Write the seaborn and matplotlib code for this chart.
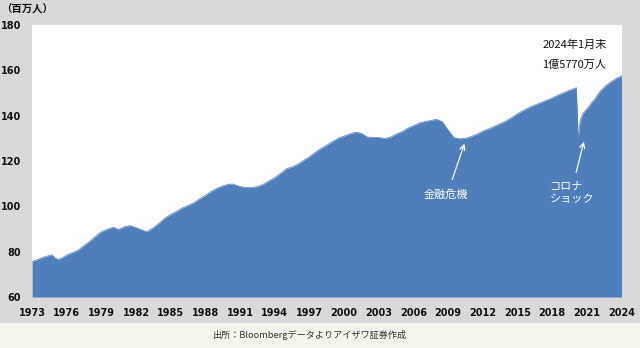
import matplotlib
matplotlib.use("Agg")
import matplotlib.pyplot as plt
import matplotlib.patches as mpatches
import seaborn as sns
import pandas as pd

# US nonfarm payrolls (millions), sampled dates as (year, month)
dates = [
    (1973, 1), (1973, 7), (1974, 1), (1974, 7), (1974, 10), (1975, 1), (1975, 4), (1975, 7),
    (1976, 1), (1976, 7), (1977, 1), (1977, 7), (1978, 1), (1978, 7), (1979, 1), (1979, 7),
    (1980, 1), (1980, 7), (1981, 1), (1981, 7), (1982, 1), (1982, 7), (1982, 12), (1983, 7),
    (1984, 1), (1984, 7), (1985, 1), (1985, 7), (1986, 1), (1986, 7), (1987, 1), (1987, 7),
    (1988, 1), (1988, 7), (1989, 1), (1989, 7), (1990, 1), (1990, 6), (1991, 1), (1991, 7),
    (1992, 1), (1992, 7), (1993, 1), (1993, 7), (1994, 1), (1994, 7), (1995, 1), (1995, 7),
    (1996, 1), (1996, 7), (1997, 1), (1997, 7), (1998, 1), (1998, 7), (1999, 1), (1999, 7),
    (2000, 1), (2000, 7), (2001, 1), (2001, 7), (2002, 1), (2002, 7), (2003, 1), (2003, 7),
    (2004, 1), (2004, 7), (2005, 1), (2005, 7), (2006, 1), (2006, 7), (2007, 1), (2007, 7),
    (2008, 1), (2008, 7), (2009, 1), (2009, 7), (2010, 1), (2010, 7), (2011, 1), (2011, 7),
    (2012, 1), (2012, 7), (2013, 1), (2013, 7), (2014, 1), (2014, 7), (2015, 1), (2015, 7),
    (2016, 1), (2016, 7), (2017, 1), (2017, 7), (2018, 1), (2018, 7), (2019, 1), (2019, 7),
    (2020, 1), (2020, 2), (2020, 4), (2020, 5), (2020, 6), (2020, 7), (2020, 9), (2020, 12),
    (2021, 3), (2021, 6), (2021, 9), (2021, 12), (2022, 3), (2022, 6), (2022, 9), (2022, 12),
    (2023, 3), (2023, 6), (2023, 9), (2023, 12), (2024, 1),
]
payrolls = [
    75.6, 76.6, 77.6, 78.3, 78.6, 77.2, 76.6, 77.0,
    78.5, 79.6, 80.7, 82.7, 84.6, 86.8, 88.8, 89.9,
    90.8, 89.8, 91.0, 91.5, 90.6, 89.6, 88.8, 90.6,
    92.6, 94.9, 96.4, 97.8, 99.3, 100.4, 101.6, 103.3,
    104.9, 106.6, 108.0, 109.0, 109.8, 109.8, 108.7, 108.3,
    108.3, 108.7, 109.7, 111.2, 112.7, 114.6, 116.6, 117.4,
    118.6, 120.3, 121.9, 123.8, 125.6, 127.0, 128.6, 130.1,
    131.0, 132.0, 132.7, 132.2, 130.6, 130.4, 130.4, 129.9,
    130.5, 131.9, 132.9, 134.5, 135.6, 136.8, 137.4, 137.9,
    138.4, 137.3, 133.6, 130.3, 129.8, 130.0, 130.8, 131.9,
    133.2, 134.2, 135.3, 136.5, 137.6, 139.2, 140.9, 142.3,
    143.6, 144.7, 145.7, 146.8, 147.8, 149.1, 150.2, 151.2,
    152.1, 152.4, 130.4, 133.0, 137.6, 139.0, 141.0, 142.5,
    144.0, 145.8, 147.2, 149.2, 150.9, 152.1, 153.4, 154.3,
    155.2, 156.0, 156.8, 157.3, 157.7,
]
x_ticks = list(range(1973, 2025, 3))
y_ticks = [60, 80, 100, 120, 140, 160, 180]

df = pd.DataFrame({
    "year": [y + (m - 1) / 12 for y, m in dates],
    "payrolls": payrolls,
})

sns.set_theme(style="white")
plt.rcParams["font.family"] = ["Noto Sans CJK JP", "DejaVu Sans"]

fill_color = "#4f7fbb"
fig = plt.figure(figsize=(6.4, 3.48), dpi=100, facecolor="#d9d9d9")
# footer band
fig.patches.append(mpatches.Rectangle((0, 0), 1, 25 / 348, transform=fig.transFigure,
                                      facecolor="#f4f3ec", edgecolor="none", zorder=0))
ax = fig.add_axes([32 / 640, 51 / 348, 589.5 / 640, 272 / 348])
ax.set_facecolor("white")

ymin, ymax = 60, 180
sns.lineplot(data=df, x="year", y="payrolls", ax=ax, color=fill_color, linewidth=0.5)
ax.fill_between(df["year"], df["payrolls"], ymin, color=fill_color, linewidth=0)

ax.set_xlim(1973, 2024)
ax.set_ylim(ymin, ymax)
ax.set_xticks(x_ticks)
ax.set_yticks(y_ticks)
ax.set_xticklabels([str(t) for t in x_ticks], fontsize=7, fontweight="bold",
                   family="DejaVu Sans", color="#111111")
ax.set_yticklabels([str(t) for t in y_ticks], fontsize=7, fontweight="bold",
                   family="DejaVu Sans", color="#111111")
ax.tick_params(axis="x", length=0, pad=8)
ax.tick_params(axis="y", length=0, pad=8)
ax.set_xlabel("")
ax.set_ylabel("")
for s in ax.spines.values():
    s.set_visible(False)

fig.text(1 / 640, 1 - 9 / 348, "（百万人）", fontsize=7.5, fontweight="bold",
         ha="left", va="center", color="#111111")

# latest value
ax.text(2019.93, 171.2, "2024年1月末", fontsize=8, ha="center", va="center", color="#111111")
ax.text(2019.93, 162.3, "1億5770万人", fontsize=8, ha="center", va="center", color="#111111")

arrow = dict(arrowstyle="->", color="white", lw=0.9, mutation_scale=9)
ax.annotate("", xy=(2010.49, 128.8), xytext=(2009.28, 110.7), arrowprops=arrow)
ax.text(2008.85, 105.4, "金融危機", fontsize=8, ha="center", va="center", color="white")

ax.annotate("", xy=(2020.8, 129.7), xytext=(2020.02, 113.8), arrowprops=arrow)
ax.text(2017.77, 106.0, "コロナ\nショック", fontsize=8, ha="left", va="center",
        color="white", linespacing=1.35)

fig.text(310 / 640, 13 / 348, "出所：Bloombergデータよりアイザワ証券作成", fontsize=6.6,
         ha="center", va="center", color="#333333")

fig.savefig("out.png", dpi=100, facecolor=fig.get_facecolor())
